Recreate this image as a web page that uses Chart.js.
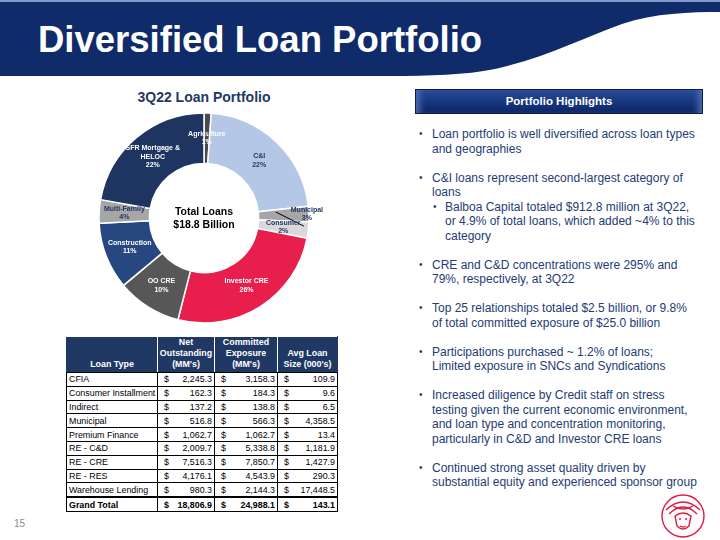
<!DOCTYPE html>
<html lang="en">
<head>
<meta charset="utf-8">
<title>Diversified Loan Portfolio</title>
<script src="https://cdn.jsdelivr.net/npm/chart.js"></script>
<style>
    html, body { margin: 0; padding: 0; background: #fff; }
    body { width: 720px; height: 540px; position: relative; overflow: hidden; font-family: "Liberation Sans", Arial, sans-serif; }
    .abs { position: absolute; }
    #title { left: 38px; top: 20px; color: #fff; font-weight: bold; font-size: 36.5px; line-height: 40px; white-space: nowrap; }
    #chartTitle { left: 94px; top: 88px; width: 220px; text-align: center; color: #1f3864; font-weight: bold; font-size: 14px; line-height: 18px; }
    #pieBox { left: 84px; top: 104px; width: 250px; height: 228px; }
    #loanTable { left: 66px; top: 336px; width: 271px; border-collapse: collapse; table-layout: fixed; font-size: 8.9px; }
    #loanTable th { background: #1f3864; color: #fff; font-weight: bold; border: 1px solid #fff; border-bottom-color: #000; vertical-align: bottom; text-align: center; line-height: 11px; padding: 0 1px 2px; height: 33px; }
    #loanTable th:first-child { border-left-color: #1f3864; }
    #loanTable th:last-child { border-right-color: #1f3864; }
    #loanTable td { border: 1px solid #000; height: 12.8px; line-height: 12px; padding: 0 2px; white-space: nowrap; color: #000; }
    #loanTable td.m { text-align: right; }
    #loanTable td.m span { float: left; padding-left: 4px; }
    #loanTable tr.total td { font-weight: bold; border-top: 2px solid #000; }
    #hlBox { left: 415px; top: 89px; width: 288px; height: 25px; background: linear-gradient(to bottom, #2a4b95 0%, #173a82 45%, #0c2663 100%);
             border: 1px solid #0a1c4c; box-sizing: border-box; color: #fff; font-weight: bold; font-size: 11.5px; line-height: 23px; text-align: center;
             box-shadow: inset 8px 0 6px -4px #4a6ab0, inset -8px 0 6px -4px #4a6ab0; }
    #bullets { left: 419px; top: 127px; width: 300px; color: #243b75; font-size: 12px; line-height: 14.5px; white-space: nowrap; }
    #bullets p { margin: 0 0 14.5px 0; padding-left: 13px; position: relative; }
    #bullets p.sub { margin-top: -14.5px; padding-left: 26px; }
    #bullets p::before { content: "\2022"; position: absolute; left: 0; font-size: 10px; }
    #bullets p.sub::before { left: 14px; }
    #pageNo { left: 14px; top: 518px; color: #8c8c8c; font-size: 10px; }
</style>
</head>
<body>

<!-- Header band -->
<svg class="abs" style="left:0;top:0" width="720" height="80">
    <path d="M0,0 H720 V12 C 690,12 655,13 622,24 C 585,37 545,58 495,69 C 465,75 430,76 390,76 H0 Z" fill="#0f2b69"/>
    <rect x="0" y="0" width="720" height="2" fill="#7f9acb"/>
</svg>
<div id="title" class="abs">Diversified Loan Portfolio</div>

<!-- Doughnut -->
<div id="chartTitle" class="abs">3Q22 Loan Portfolio</div>
<div id="pieBox" class="abs"><canvas id="loanPie"></canvas></div>

<!-- Table -->
<table id="loanTable" class="abs">
    <colgroup><col style="width:91px"><col style="width:57px"><col style="width:63px"><col style="width:60px"></colgroup>
    <thead>
        <tr><th>Loan Type</th><th>Net<br>Outstanding<br>(MM's)</th><th>Committed<br>Exposure<br>(MM's)</th><th>Avg Loan<br>Size (000's)</th></tr>
    </thead>
    <tbody id="tableBody"></tbody>
</table>

<!-- Highlights -->
<div id="hlBox" class="abs">Portfolio Highlights</div>
<div id="bullets" class="abs">
    <p>Loan portfolio is well diversified across loan types<br>and geographies</p>
    <p>C&amp;I loans represent second-largest category of<br>loans</p>
    <p class="sub">Balboa Capital totaled $912.8 million at 3Q22,<br>or 4.9% of total loans, which added ~4% to this<br>category</p>
    <p>CRE and C&amp;D concentrations were 295% and<br>79%, respectively, at 3Q22</p>
    <p>Top 25 relationships totaled $2.5 billion, or 9.8%<br>of total committed exposure of $25.0 billion</p>
    <p>Participations purchased ~ 1.2% of loans;<br>Limited exposure in SNCs and Syndications</p>
    <p>Increased diligence by Credit staff on stress<br>testing given the current economic environment,<br>and loan type and concentration monitoring,<br>particularly in C&amp;D and Investor CRE loans</p>
    <p>Continued strong asset quality driven by<br>substantial equity and experienced sponsor group</p>
</div>

<div id="pageNo" class="abs">15</div>

<!-- Lion mark -->
<svg class="abs" style="left:658px;top:492px" width="52" height="48">
    <g fill="none" stroke="#e0173f" stroke-width="1.4">
        <circle cx="25" cy="24" r="21"/>
        <path d="M8,18 Q25,2 42,18"/>
        <path d="M11,22 Q25,8 39,22"/>
        <path d="M15,14 Q25,20 35,14"/>
        <path d="M17,24 Q25,18 33,24 L31,34 Q25,40 19,34 Z"/>
        <path d="M21,27 h2 M27,27 h2"/>
        <path d="M22,34 Q25,36 28,34"/>
    </g>
</svg>

<script>
    // Doughnut data (shares, labels as printed)
    const sliceNames = ['Agriculture', 'C&I', 'Municipal', 'Consumer', 'Investor CRE', 'OO CRE', 'Construction', 'Multi-Family', 'SFR Mortgage & HELOC'];
    const sliceShares = [1.1, 22.1, 2.4, 2.5, 25.9, 9.9, 10.3, 3.6, 22.2];
    const slicePctText = ['1%', '22%', '3%', '2%', '26%', '10%', '11%', '4%', '22%'];
    const sliceLines = [['Agriculture'], ['C&I'], ['Municipal'], ['Consumer'], ['Investor CRE'], ['OO CRE'], ['Construction'], ['Multi-Family'], ['SFR Mortgage &', 'HELOC']];
    const sliceColors = ['#4a4a4a', '#b4c7e7', '#a6a6a6', '#d9d9d9', '#e81f4d', '#575757', '#26477f', '#a6a6a6', '#1f3561'];
    const sliceTextColors = ['#ffffff', '#1f3864', '#1f3864', '#1f3864', '#ffffff', '#ffffff', '#ffffff', '#1f3864', '#ffffff'];

    // Table data
    const loanTypes = ['CFIA', 'Consumer Installment', 'Indirect', 'Municipal', 'Premium Finance', 'RE - C&D', 'RE - CRE', 'RE - RES', 'Warehouse Lending'];
    const netOutstanding = ['2,245.3', '162.3', '137.2', '516.8', '1,062.7', '2,009.7', '7,516.3', '4,176.1', '980.3'];
    const committedExposure = ['3,158.3', '184.3', '138.8', '566.3', '1,062.7', '5,338.8', '7,850.7', '4,543.9', '2,144.3'];
    const avgLoanSize = ['109.9', '9.6', '6.5', '4,358.5', '13.4', '1,181.9', '1,427.9', '290.3', '17,448.5'];
    const totalRow = ['Grand Total', '18,806.9', '24,988.1', '143.1'];

    // build table rows
    const tb = document.getElementById('tableBody');
    function addRow(cells, cls) {
        const tr = document.createElement('tr');
        if (cls) tr.className = cls;
        cells.forEach((c, i) => {
            const td = document.createElement('td');
            if (i === 0) {
                td.textContent = c;
            } else {
                td.className = 'm';
                const s = document.createElement('span');
                s.textContent = '$';
                td.appendChild(s);
                td.appendChild(document.createTextNode(c));
            }
            tr.appendChild(td);
        });
        tb.appendChild(tr);
    }
    loanTypes.forEach((t, i) => addRow([t, netOutstanding[i], committedExposure[i], avgLoanSize[i]]));
    addRow(totalRow, 'total');

    // slice labels + centre text
    const labelPlugin = {
        id: 'sliceLabels',
        afterDatasetsDraw(chart) {
            const ctx = chart.ctx;
            const meta = chart.getDatasetMeta(0);
            ctx.save();
            ctx.textAlign = 'center';
            ctx.textBaseline = 'middle';
            ctx.font = 'bold 7px "Liberation Sans", Arial, sans-serif';
            meta.data.forEach((arc, i) => {
                let p = arc.getCenterPoint();
                const lines = sliceLines[i].concat([slicePctText[i]]);
                if (sliceNames[i] === 'Municipal') {
                    // label sits on the rim, with a short leader line
                    const mid = (arc.startAngle + arc.endAngle) / 2;
                    const r = arc.outerRadius - 2;
                    const q = { x: arc.x + Math.cos(mid) * r, y: arc.y + Math.sin(mid) * r };
                    ctx.strokeStyle = '#000';
                    ctx.lineWidth = 1;
                    ctx.beginPath();
                    ctx.moveTo(p.x - 8, p.y - 3);
                    ctx.lineTo(q.x - 3, q.y + 12);
                    ctx.stroke();
                    p = q;
                }
                ctx.fillStyle = sliceTextColors[i];
                const lh = 8.5;
                const y0 = p.y - (lines.length - 1) * lh / 2;
                lines.forEach((t, k) => ctx.fillText(t, p.x, y0 + k * lh));
            });
            const c = meta.data[0];
            ctx.fillStyle = '#000';
            ctx.font = 'bold 10.5px "Liberation Sans", Arial, sans-serif';
            ctx.fillText('Total Loans', c.x, c.y - 6);
            ctx.fillText('$18.8 Billion', c.x, c.y + 7);
            ctx.restore();
        }
    };

    new Chart(document.getElementById('loanPie').getContext('2d'), {
        type: 'doughnut',
        data: {
            labels: sliceNames,
            datasets: [{
                data: sliceShares,
                backgroundColor: sliceColors,
                borderColor: '#ffffff',
                borderWidth: 1.5
            }]
        },
        options: {
            responsive: true,
            maintainAspectRatio: false,
            animation: false,
            radius: 105,
            cutout: '52%',
            layout: { padding: { left: 15, right: 25, top: 9, bottom: 9 } },
            plugins: {
                legend: { display: false },
                tooltip: { enabled: false }
            }
        },
        plugins: [labelPlugin]
    });
</script>
</body>
</html>
